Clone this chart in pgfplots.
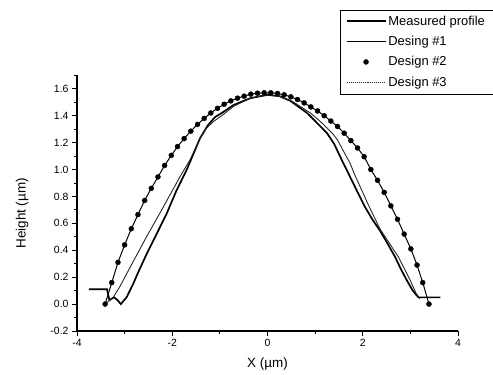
\documentclass[border=0pt]{standalone}
\usepackage{pgfplots}
\pgfplotsset{compat=1.18}
\usepackage{fontspec}
\setmainfont{Liberation Sans}
\pgfplotsset{
  mylineleg/.style={legend image code/.code={\draw[##1] (0bp,0bp) -- (39bp,0bp);}},
  mydotleg/.style={legend image code/.code={\draw[##1] plot coordinates {(19.5bp,0bp)};}},
  mydottedleg/.style={legend image code/.code={\draw[##1, densely dotted, line width=1.1pt] (0bp,0bp) -- (39bp,0bp);}},
}
\begin{document}
\begin{tikzpicture}
\begin{axis}[
  width=381bp, height=255.7bp, scale only axis,
  xmin=-4, xmax=4, ymin=-0.2, ymax=1.7,
  axis x line*=bottom, axis y line*=left,
  axis line style={line width=1.1pt, black},
  xtick={-4,-2,0,2,4}, minor xtick={-3,-1,1,3},
  ytick={-0.2,0,0.2,0.4,0.6,0.8,1.0,1.2,1.4,1.6},
  minor ytick={-0.1,0.1,0.3,0.5,0.7,0.9,1.1,1.3,1.5,1.7},
  tick align=outside, major tick length=5bp, minor tick length=3bp,
  tick style={line width=0.9pt, black},
  yticklabel style={/pgf/number format/.cd, fixed, fixed zerofill, precision=1},
  /pgf/number format/assume math mode=true,
  tick label style={font=\fontsize{10.5}{12}\selectfont},
  xlabel={X (µm)}, ylabel={Height (µm)},
  every axis x label/.style={at={(axis description cs:0.5,-0.13)}, anchor=center, font=\fontsize{13.5}{15}\selectfont},
  every axis y label/.style={at={(axis description cs:-0.144,0.46)}, rotate=90, anchor=center, font=\fontsize{13.5}{15}\selectfont},
  clip=false,
  legend style={font=\fontsize{13}{15}\selectfont, draw=black,
    at={(1.092,1.257)}, anchor=north east, inner xsep=6bp, inner ysep=4bp,
    row sep=5.5bp, cells={anchor=west}},
  legend cell align=left,
]
% Measured profile
\addplot[black, line width=1.7pt, mylineleg] coordinates {
(-3.75,0.11) (-3.37,0.11) (-3.32,0.03) (-3.22,0.05) (-3.15,0.03) (-3.08,0.0) (-2.96,0.05)
(-2.82,0.15) (-2.71,0.24) (-2.54,0.37) (-2.33,0.52) (-2.12,0.67) (-1.91,0.845) (-1.70,0.995)
(-1.55,1.12) (-1.42,1.23) (-1.25,1.33) (-1.10,1.39) (-0.96,1.42) (-0.71,1.48) (-0.36,1.53)
(0,1.555) (0.25,1.545) (0.48,1.51) (0.83,1.42) (1.0,1.36) (1.25,1.27) (1.4,1.19) (1.56,1.07)
(1.70,0.97) (1.88,0.84) (2.05,0.72) (2.2,0.63) (2.36,0.547) (2.52,0.45) (2.68,0.35) (2.8,0.26)
(2.93,0.174) (3.05,0.10) (3.12,0.07) (3.17,0.05) (3.63,0.05)
};
\addlegendentry{Measured profile}
% Desing #1
\addplot[black, line width=1.0pt, mylineleg] coordinates {
(-3.41,0.0) (-3.27,0.16) (-3.14,0.31) (-3.0,0.44) (-2.86,0.56) (-2.72,0.665) (-2.58,0.77)
(-2.44,0.86) (-2.30,0.945) (-2.16,1.03) (-2.02,1.105) (-1.89,1.17) (-1.75,1.23) (-1.61,1.285)
(-1.47,1.335) (-1.33,1.38) (-1.19,1.42) (-1.05,1.455) (-0.91,1.485) (-0.77,1.51) (-0.63,1.53)
(-0.49,1.545) (-0.35,1.56) (-0.21,1.567) (-0.07,1.57) (0.07,1.57) (0.21,1.565) (0.35,1.555)
(0.49,1.54) (0.63,1.52) (0.77,1.495) (0.91,1.465) (1.05,1.435) (1.19,1.40) (1.33,1.36)
(1.47,1.32) (1.61,1.27) (1.75,1.215) (1.89,1.16) (2.03,1.095) (2.17,1.0) (2.31,0.92)
(2.45,0.83) (2.59,0.73) (2.73,0.63) (2.87,0.52) (3.01,0.41) (3.14,0.29) (3.26,0.16) (3.39,0.0)
};
\addlegendentry{Desing \#1}
% Design #2
\addplot[black, only marks, mark=*, mark size=2.5bp, mydotleg] coordinates {
(-3.41,0.0) (-3.27,0.16) (-3.14,0.31) (-3.0,0.44) (-2.86,0.56) (-2.72,0.665) (-2.58,0.77)
(-2.44,0.86) (-2.30,0.945) (-2.16,1.03) (-2.02,1.105) (-1.89,1.17) (-1.75,1.23) (-1.61,1.285)
(-1.47,1.335) (-1.33,1.38) (-1.19,1.42) (-1.05,1.455) (-0.91,1.485) (-0.77,1.51) (-0.63,1.53)
(-0.49,1.545) (-0.35,1.56) (-0.21,1.567) (-0.07,1.57) (0.07,1.57) (0.21,1.565) (0.35,1.555)
(0.49,1.54) (0.63,1.52) (0.77,1.495) (0.91,1.465) (1.05,1.435) (1.19,1.40) (1.33,1.36)
(1.47,1.32) (1.61,1.27) (1.75,1.215) (1.89,1.16) (2.03,1.095) (2.17,1.0) (2.31,0.92)
(2.45,0.83) (2.59,0.73) (2.73,0.63) (2.87,0.52) (3.01,0.41) (3.14,0.29) (3.26,0.16) (3.39,0.0)
};
\addlegendentry{Design \#2}
% Design #3
\addplot[black!85, line width=0.9pt, mydottedleg] coordinates {
(-3.41,0.0) (-3.24,0.05) (-3.1,0.13) (-2.89,0.27) (-2.54,0.50) (-2.19,0.72) (-1.84,0.945)
(-1.63,1.07) (-1.42,1.23) (-1.3,1.30) (-1.14,1.355) (-0.96,1.40) (-0.71,1.47) (-0.36,1.53)
(0,1.555) (0.3,1.54) (0.55,1.50) (0.9,1.42) (1.1,1.36) (1.36,1.27) (1.47,1.22) (1.62,1.12)
(1.73,1.05) (1.82,0.97) (2.14,0.72) (2.36,0.56) (2.47,0.50) (2.75,0.35) (3.0,0.174)
(3.12,0.08) (3.2,0.04)
};
\addlegendentry{Design \#3}
\end{axis}
\pgfresetboundingbox
\path[use as bounding box] ([shift={(-77bp,-43.3bp)}]current axis.south west) rectangle ([shift={(35bp,75.3bp)}]current axis.north east);
\end{tikzpicture}
\end{document}
